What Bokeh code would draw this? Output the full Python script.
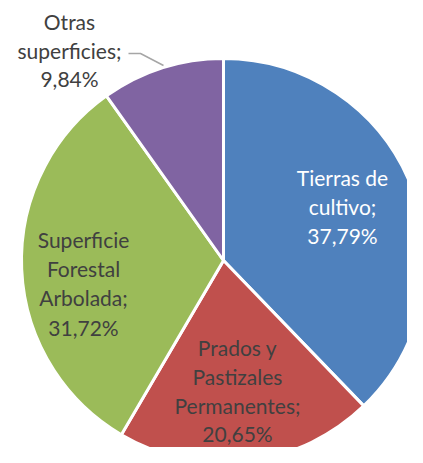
import math
from bokeh.plotting import figure
from bokeh.models import Range1d
from bokeh.core.properties import value
from bokeh.embed import file_html
from bokeh.resources import INLINE

# Data
categories = ["Tierras de cultivo", "Prados y Pastizales Permanentes",
              "Superficie Forestal Arbolada", "Otras superficies"]
shares = [37.79, 20.65, 31.72, 9.84]
label_texts = ["37,79%", "20,65%", "31,72%", "9,84%"]
colors = ["#4F81BD", "#C0504D", "#9BBB59", "#8064A2"]

# Layout (screen pixel positions in the reference)
W, H = 407, 447
cx_s, cy_s, r = 223, 260, 202

def fx(sx):
    return sx

def fy(sy):
    return H - sy

label_lines = [
    (["Tierras de", "cultivo;", "37,79%"], 342, [177, 206, 235], "white"),
    (["Prados y", "Pastizales", "Permanentes;", "20,65%"], 237, [347, 376, 405, 433], "#404040"),
    (["Superficie", "Forestal", "Arbolada;", "31,72%"], 83, [239, 268, 297, 327], "#404040"),
    (["Otras", "superficies;", "9,84%"], 69, [21, 50, 78], "#404040"),
]

p = figure(width=W, height=H, output_backend="svg", toolbar_location=None,
           x_range=Range1d(0, W), y_range=Range1d(0, H), min_border=0)
p.axis.visible = False
p.grid.visible = False
p.outline_line_color = None
p.background_fill_color = "white"
p.border_fill_color = "white"

total = sum(shares)
cum = 0.0
starts, ends = [], []
for s in shares:
    a0 = math.pi / 2 - 2 * math.pi * cum / total
    cum += s
    a1 = math.pi / 2 - 2 * math.pi * cum / total
    starts.append(a0)
    ends.append(a1)

p.wedge(x=[fx(cx_s)] * len(shares), y=[fy(cy_s)] * len(shares), radius=r,
        start_angle=starts, end_angle=ends, direction="clock",
        fill_color=colors, line_color="white", line_width=3)

# leader line for "Otras superficies"
p.line(x=[fx(128), fx(140), fx(163)], y=[fy(53), fy(53), fy(65)],
       line_color="#A6A6A6", line_width=1.5)

for lines, x, ys, col in label_lines:
    p.text(x=[fx(x)] * len(lines), y=[fy(y) for y in ys], text=lines,
           text_align="center", text_baseline="middle",
           text_font=value("Lato"), text_font_size="21px", text_color=col)

open("out.html", "w").write(file_html(p, INLINE))
